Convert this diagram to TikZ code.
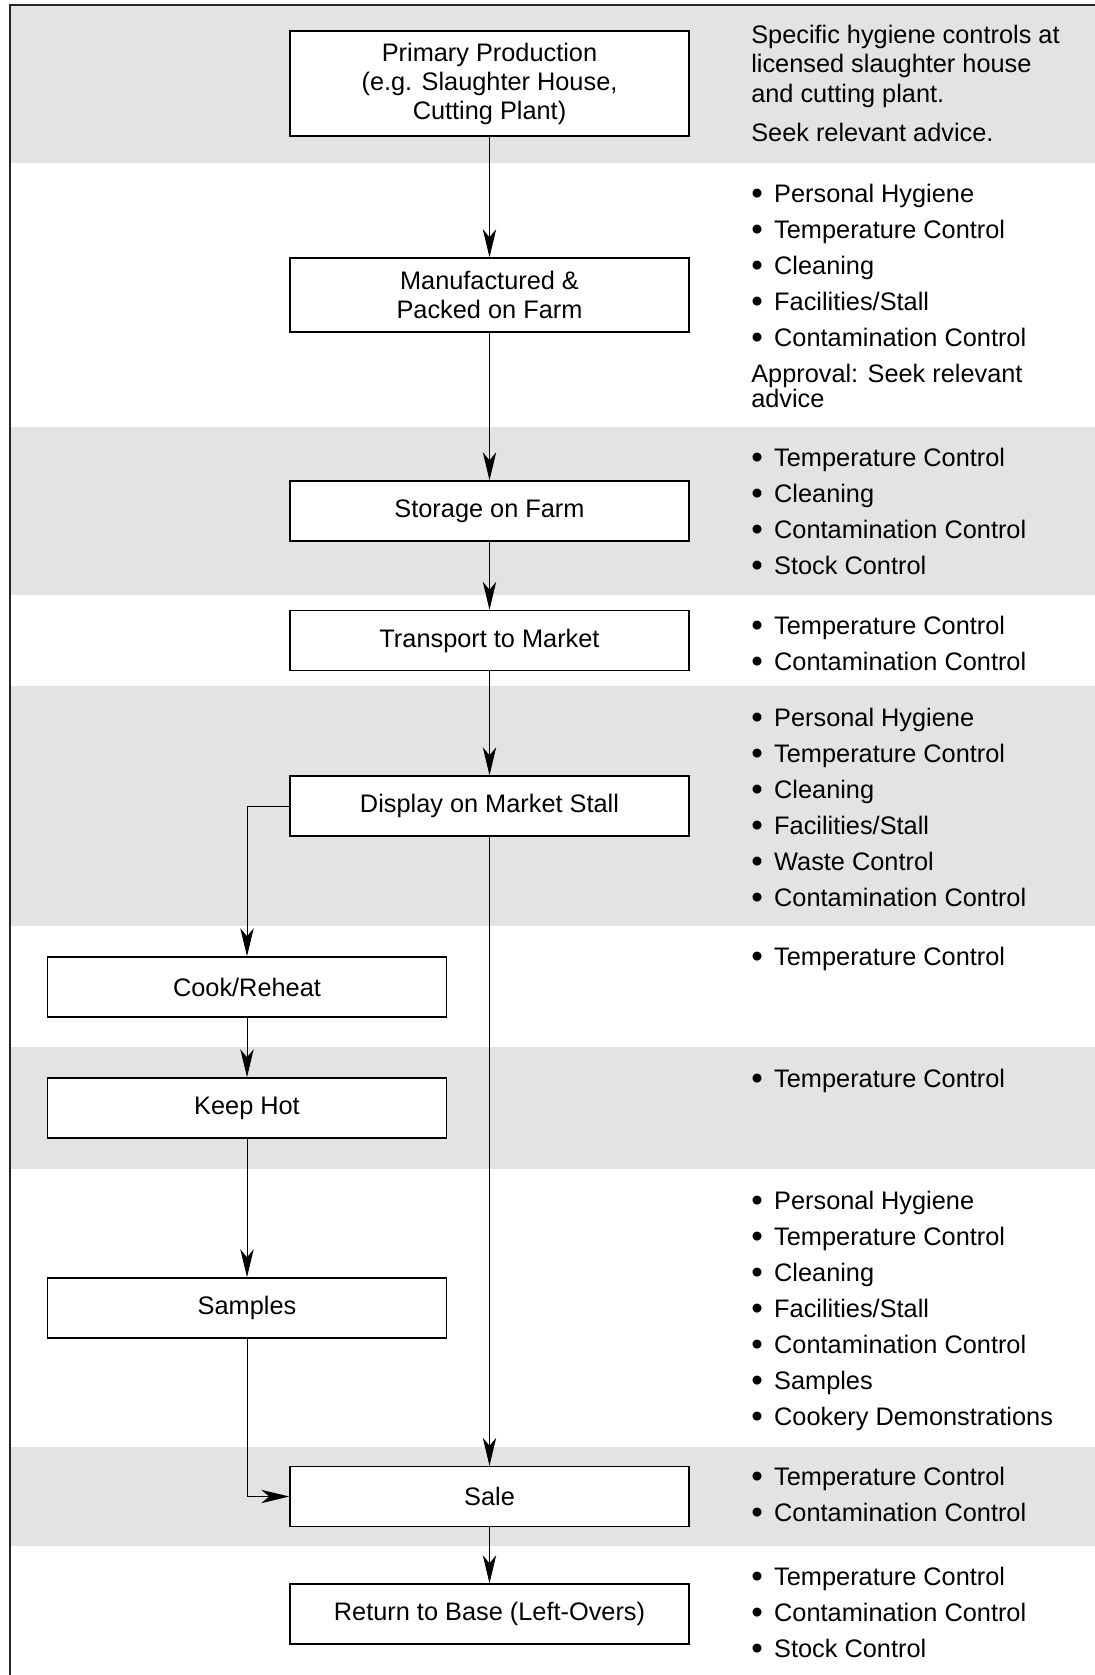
\documentclass[tikz,border=0pt]{standalone}
\usepackage{fontspec}
\setmainfont{Liberation Sans}
\usetikzlibrary{arrows.meta}

\begin{document}
\begin{tikzpicture}[x=0.75pt,y=-0.75pt,
        band/.style={fill=black!11},
        box/.style={draw, line width=1.1pt, fill=white, minimum width=299.25pt, minimum height=45pt, align=center, inner sep=0pt, font=\fontsize{19}{21.75}\selectfont},
        ctl/.style={anchor=base west, inner sep=0pt, font=\fontsize{19}{21.75}\selectfont},
        bul/.style={ctl, execute at begin node={\raisebox{-0.1em}{\scalebox{1.3}{\textbullet}}\hspace{0.45em}}},
        flow/.style={line width=0.75pt, -{Stealth[length=21pt,width=10pt,inset=6pt]}}]
        \useasboundingbox (0,0) rectangle (1095,1675);
        \fill[band] (10,5) rectangle (1095,163);
        \fill[band] (10,427) rectangle (1095,595);
        \fill[band] (10,686) rectangle (1095,926);
        \fill[band] (10,1047) rectangle (1095,1169);
        \fill[band] (10,1447) rectangle (1095,1546);
        \draw[line width=1.1pt, black!85] (1095,5) -- (10,5) -- (10,1675);

        \node[box, minimum height=78.75pt] (prim) at (489.5,83.5) {Primary Production\\(e.g. Slaughter House,\\Cutting Plant)};
        \node[box, minimum height=55.5pt] (manu) at (489.5,295) {Manufactured \&\\Packed on Farm};
        \node[box] (store) at (489.5,511) {Storage on Farm};
        \node[box] (trans) at (489.5,640.5) {Transport to Market};
        \node[box] (disp) at (489.5,806) {Display on Market Stall};
        \node[box] (cook) at (247,987) {Cook/Reheat};
        \node[box] (hot) at (247,1108) {Keep Hot};
        \node[box] (samp) at (247,1308) {Samples};
        \node[box] (sale) at (489.5,1496.5) {Sale};
        \node[box] (ret) at (489.5,1614) {Return to Base (Left-Overs)};

        \draw[flow] (prim) -- (manu);
        \draw[flow] (manu) -- (store);
        \draw[flow] (store) -- (trans);
        \draw[flow] (trans) -- (disp);
        \draw[flow] (disp.west) -| (cook);
        \draw[flow] (disp) -- (sale);
        \draw[flow] (cook) -- (hot);
        \draw[flow] (hot) -- (samp);
        \draw[flow] (samp) |- (sale);
        \draw[flow] (sale) -- (ret);

        \foreach \t [count=\i from 0] in {Specific hygiene controls at,licensed slaughter house,and cutting plant.}
            \node[ctl] (spec\i) at (751,43+29.5*\i) {\t};
        \node[ctl] (seek) at (751,141) {Seek relevant advice.};
        \node[ctl] (appr) at (751,382) {Approval: Seek relevant};
        \node[ctl] (advi) at (751,407) {advice};

        \foreach \y/\lst [count=\g] in {
            202/{Personal Hygiene,Temperature Control,Cleaning,Facilities/Stall,Contamination Control},
            466/{Temperature Control,Cleaning,Contamination Control,Stock Control},
            634/{Temperature Control,Contamination Control},
            726/{Personal Hygiene,Temperature Control,Cleaning,Facilities/Stall,Waste Control,Contamination Control},
            965/{Temperature Control},
            1087/{Temperature Control},
            1209/{Personal Hygiene,Temperature Control,Cleaning,Facilities/Stall,Contamination Control,Samples,Cookery Demonstrations},
            1485/{Temperature Control,Contamination Control},
            1585/{Temperature Control,Contamination Control,Stock Control}}
            \foreach \t [count=\i from 0] in \lst
                \node[bul] (c\g-\i) at (751,\y+36*\i) {\t};
    \end{tikzpicture}
\end{document}
